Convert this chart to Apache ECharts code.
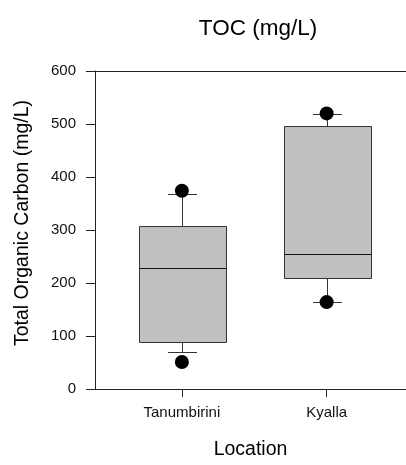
<!DOCTYPE html>
<html>
<head>
<meta charset="utf-8">
<script src="https://cdn.jsdelivr.net/npm/echarts@6/dist/echarts.min.js"></script>
<style>html,body{margin:0;padding:0;background:#fff}#c{width:406px;height:465px}</style>
</head>
<body>
<div id="c"></div>
<script>
const categories = ['Tanumbirini', 'Kyalla'];
const whiskerLow = [70, 165];
const q1 = [89, 210];
const median = [228, 255];
const q3 = [308, 496];
const whiskerHigh = [367, 518];
const outlierLow = [51, 164];
const outlierHigh = [374, 520];
const yTicks = [0, 100, 200, 300, 400, 500, 600];

const FONT = 'Liberation Sans, Arial, sans-serif';
const boxData = categories.map((c, i) => [i + 1, whiskerLow[i], q1[i], median[i], q3[i], whiskerHigh[i]]);
const outlierData = [];
categories.forEach((c, i) => { outlierData.push([i + 1, outlierLow[i]]); outlierData.push([i + 1, outlierHigh[i]]); });

const chart = echarts.init(document.getElementById('c'), null, {renderer: 'canvas'});
const snap = v => Math.round(v) + 0.5;
const X_MIN = 0.4, X_MAX = 2.548;
chart.setOption({
  animation: false,
  backgroundColor: '#fff',
  title: {
    text: 'TOC (mg/L)', left: 253, top: 12, textAlign: 'center',
    textStyle: {fontFamily: FONT, fontSize: 22.5, fontWeight: 'normal', color: '#000'}
  },
  grid: {left: 95, right: 0, top: 71, bottom: 76, show: false},
  xAxis: [{
    type: 'value', min: X_MIN, max: X_MAX,
    name: 'Location', nameLocation: 'middle', nameGap: 51,
    nameTextStyle: {fontFamily: FONT, fontSize: 19.5, color: '#000'},
    axisLine: {show: true, lineStyle: {color: '#222', width: 1}},
    axisTick: {show: true, length: 8, customValues: [1, 2], lineStyle: {color: '#222'}},
    axisLabel: {customValues: [1, 2], margin: 16, fontFamily: FONT, fontSize: 15, color: '#111',
      formatter: v => categories[Math.round(v) - 1] || ''},
    splitLine: {show: false}
  }, {
    type: 'value', min: X_MIN, max: X_MAX, position: 'top',
    axisLine: {show: true, onZero: false, lineStyle: {color: '#222', width: 1}},
    axisTick: {show: false}, axisLabel: {show: false}, splitLine: {show: false}
  }],
  yAxis: {
    type: 'value', min: 0, max: 600, interval: 100,
    axisLine: {show: true, lineStyle: {color: '#222', width: 1}},
    axisTick: {show: true, length: 9, lineStyle: {color: '#222'}},
    axisLabel: {margin: 19, fontFamily: FONT, fontSize: 15, color: '#111',
      formatter: v => yTicks.indexOf(v) >= 0 ? String(v) : ''},
    splitLine: {show: false}
  },
  graphic: [{
    type: 'text', x: 23, y: 223, rotation: Math.PI / 2,
    style: {text: 'Total Organic Carbon (mg/L)', font: '19.5px ' + FONT, fill: '#000', align: 'center', verticalAlign: 'middle'}
  }],
  series: [{
    type: 'custom',
    data: boxData,
    encode: {x: 0, y: [1, 2, 3, 4, 5]},
    renderItem: function (params, api) {
      const x = api.value(0);
      const pLo = api.coord([x, api.value(1)]);
      const pQ1 = api.coord([x, api.value(2)]);
      const pMed = api.coord([x, api.value(3)]);
      const pQ3 = api.coord([x, api.value(4)]);
      const pHi = api.coord([x, api.value(5)]);
      const cx = snap(pLo[0]);
      const boxHalf = api.size([0.3, 0])[0];
      const capHalf = api.size([0.1, 0])[0];
      const ls = {stroke: '#333', lineWidth: 1};
      const ml = {stroke: '#111', lineWidth: 1};
      return {type: 'group', children: [
        {type: 'line', shape: {x1: cx, y1: snap(pHi[1]), x2: cx, y2: snap(pQ3[1])}, style: ls},
        {type: 'line', shape: {x1: cx, y1: snap(pQ1[1]), x2: cx, y2: snap(pLo[1])}, style: ls},
        {type: 'line', shape: {x1: cx - capHalf, y1: snap(pHi[1]), x2: cx + capHalf, y2: snap(pHi[1])}, style: ls},
        {type: 'line', shape: {x1: cx - capHalf, y1: snap(pLo[1]), x2: cx + capHalf, y2: snap(pLo[1])}, style: ls},
        {type: 'rect', shape: {x: snap(cx - boxHalf), y: snap(pQ3[1]), width: Math.round(2 * boxHalf), height: Math.round(pQ1[1] - pQ3[1])},
          style: {fill: '#c0c0c0', stroke: '#333', lineWidth: 1}},
        {type: 'line', shape: {x1: snap(cx - boxHalf), y1: snap(pMed[1]), x2: snap(cx - boxHalf) + Math.round(2 * boxHalf), y2: snap(pMed[1])}, style: ml}
      ]};
    },
    z: 2
  }, {
    type: 'scatter',
    data: outlierData,
    symbol: 'circle', symbolSize: 14,
    itemStyle: {color: '#000', opacity: 1},
    z: 3
  }]
});
</script>
</body>
</html>
